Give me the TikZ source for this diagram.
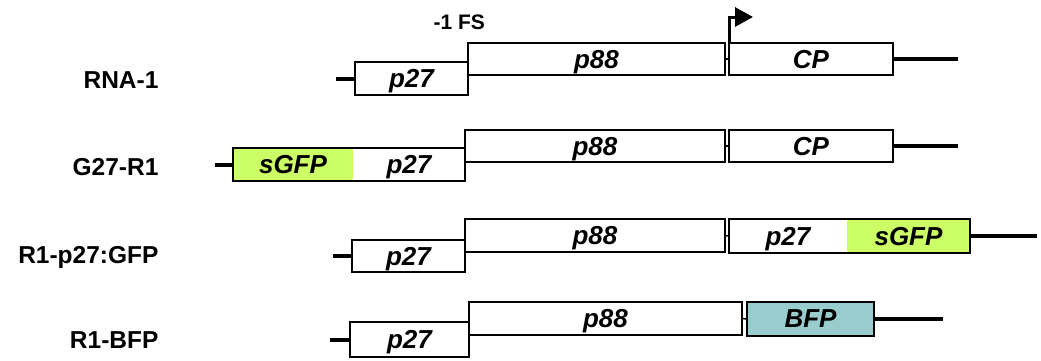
\documentclass[tikz,border=0pt]{standalone}
\usepackage{fontspec}
\setmainfont{Liberation Sans}
\usetikzlibrary{arrows.meta,fit}

\definecolor{gfpgreen}{RGB}{204,255,102}
\definecolor{bfpteal}{RGB}{153,204,204}

\begin{document}
\begin{tikzpicture}[
    x=1pt, y=-1pt,
    gene/.style={rectangle, draw, line width=1.8pt, inner sep=0pt, outer sep=0pt, minimum height=33pt, text depth=0pt, font=\fontsize{26}{31}\selectfont\bfseries\itshape},
    part/.style={gene, draw=none},
    gfp/.style={part, fill=gfpgreen},
    bfp/.style={gene, fill=bfpteal},
    rna/.style={line width=4pt},
    link/.style={line width=1.5pt},
    promoter/.style={line width=3pt, -{Triangle[length=18pt, width=19pt]}},
    rowlabel/.style={anchor=base east, font=\fontsize{24.5}{29}\selectfont\bfseries},
    fslabel/.style={anchor=base west, font=\fontsize{21}{25}\selectfont\bfseries}
]
\useasboundingbox (0,0) rectangle (1041,360);
\fill[white] (0,0) rectangle (1041,360);

% Row labels
\node[rowlabel] (lab1) at (162,88) {RNA-1};
\node[rowlabel] (lab2) at (162,175) {G27-R1};
\node[rowlabel] (lab3) at (162,263) {R1-p27:GFP};
\node[rowlabel] (lab4) at (162,348) {R1-BFP};

% Row 1: RNA-1
\node[gene, minimum width=113pt] (p27a) at (411.5,78.5) {p27};
\node[gene, minimum width=257pt, minimum height=32pt] (p88a) at (596.5,59) {p88};
\node[gene, minimum width=164pt, minimum height=32pt] (cpa) at (811,59) {CP};
\node[fslabel] (fs) at (430,29) {-1 FS};
\coordinate (l1) at (336,78.5);
\coordinate (r1) at (958,59);
\coordinate (tss) at (753,17);

% Row 2: G27-R1
\node[gfp, minimum width=120pt] (gfpb) at (293,164.5) {sGFP};
\node[part, minimum width=112pt] (p27b) at (409,164.5) {p27};
\node[gene, fit=(gfpb)(p27b)] (g27b) {};
\node[gene, minimum width=260pt, minimum height=32pt] (p88b) at (595,146) {p88};
\node[gene, minimum width=164pt, minimum height=32pt] (cpb) at (811,146) {CP};
\coordinate (l2) at (215,164.5);
\coordinate (r2) at (958,146);

% Row 3: R1-p27:GFP
\node[gene, minimum width=113pt, minimum height=32pt] (p27c) at (408.5,256) {p27};
\node[gene, minimum width=260pt] (p88c) at (595,235.5) {p88};
\node[part, minimum width=118pt, minimum height=34pt] (p27d) at (788,236) {p27};
\node[gfp, minimum width=123pt, minimum height=34pt] (gfpc) at (908.5,236) {sGFP};
\node[gene, fit=(p27d)(gfpc)] (fusc) {};
\coordinate (l3) at (333,256);
\coordinate (r3) at (1037,236);

% Row 4: R1-BFP
\node[gene, minimum width=119pt, minimum height=35pt] (p27e) at (409.5,339.5) {p27};
\node[gene, minimum width=273pt] (p88e) at (605.5,318.5) {p88};
\node[bfp, minimum width=127pt, minimum height=34pt] (bfpe) at (810.5,319) {BFP};
\coordinate (l4) at (330,339.5);
\coordinate (r4) at (943,319);

% RNA ends
\draw[rna] (l1) -- (p27a.west);
\draw[rna] (cpa.east) -- (r1);
\draw[rna] (l2) -- (g27b.west);
\draw[rna] (cpb.east) -- (r2);
\draw[rna] (l3) -- (p27c.west);
\draw[rna] (fusc.east) -- (r3);
\draw[rna] (l4) -- (p27e.west);
\draw[rna] (bfpe.east) -- (r4);

% Links between ORFs
\draw[link] (p88a.east) -- (cpa.west);
\draw[link] (p88b.east) -- (cpb.west);
\draw[link] (p88c.east) -- (fusc.west);
\draw[link] (p88e.east) -- (bfpe.west);

% Subgenomic promoter
\draw[promoter] (cpa.north west) |- (tss);

\end{tikzpicture}
\end{document}
